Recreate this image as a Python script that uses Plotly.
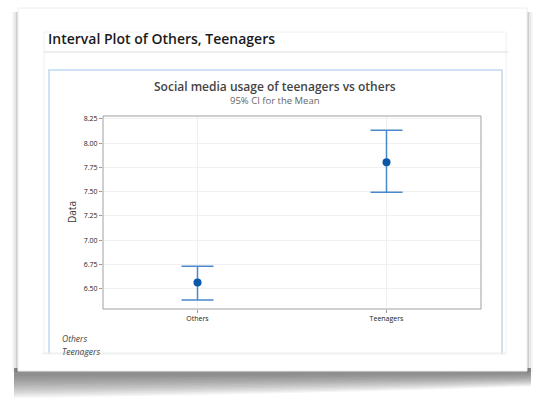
import plotly.graph_objects as go

categories = ["Others", "Teenagers"]
means = [6.562, 7.804]
upper = [6.731, 8.132]
lower = [6.383, 7.493]
y_ticks = [6.50, 6.75, 7.00, 7.25, 7.50, 7.75, 8.00, 8.25]
y_tick_labels = ["6.50", "6.75", "7.00", "7.25", "7.50", "7.75", "8.00", "8.25"]

W, H = 533, 398
L, R, T, B = 103, 481, 116, 309


def px(x):
    return (x - L) / (R - L)


def py(y):
    return (B - y) / (B - T)


fig = go.Figure()
fig.add_trace(go.Scatter(
    x=categories, y=means, mode="markers",
    marker=dict(color="#0b57a8", size=8),
    error_y=dict(type="data", symmetric=False,
                 array=[u - m for u, m in zip(upper, means)],
                 arrayminus=[m - l for m, l in zip(means, lower)],
                 color="#4a88cc", thickness=1.5, width=16),
    showlegend=False, cliponaxis=False,
))

shapes = []
# side shadows
for op, d in [(0.06, 6), (0.1, 4), (0.18, 2)]:
    shapes.append(dict(type="rect", xref="paper", yref="paper",
                       x0=px(18 - d), x1=px(18), y0=py(372), y1=py(12),
                       fillcolor="#666", opacity=op, line_width=0, layer="below"))
    shapes.append(dict(type="rect", xref="paper", yref="paper",
                       x0=px(527), x1=px(527 + d), y0=py(372), y1=py(12),
                       fillcolor="#666", opacity=op, line_width=0, layer="below"))
# bottom shadow (layered gradient)
for k in range(14):
    d = 26 - k * 1.7
    shapes.append(dict(type="path", xref="paper", yref="paper",
                       path=f"M {px(14)},{py(368)} L {px(531)},{py(368)} L {px(531)},{py(372 + d*0.55)} "
                            f"Q {px(300)},{py(372 + d*0.85)} {px(14)},{py(372 + d)} Z",
                       fillcolor="#444", opacity=0.06, line_width=0, layer="below"))
# card
shapes.append(dict(type="rect", xref="paper", yref="paper",
                   x0=px(18), x1=px(527), y0=py(371), y1=py(8),
                   fillcolor="white", line=dict(color="#eeeeee", width=1), layer="below"))
# header box
shapes.append(dict(type="rect", xref="paper", yref="paper",
                   x0=px(44), x1=px(506), y0=py(354), y1=py(32),
                   fillcolor="rgba(0,0,0,0)", line=dict(color="#f0f0f0", width=1), layer="below"))
shapes.append(dict(type="line", xref="paper", yref="paper",
                   x0=px(44), x1=px(508), y0=py(52), y1=py(52),
                   line=dict(color="#e8e8e8", width=1.5), layer="below"))
# light blue panel
shapes.append(dict(type="path", xref="paper", yref="paper",
                   path=f"M {px(49)},{py(354)} L {px(49)},{py(70)} L {px(502)},{py(70)} L {px(502)},{py(354)}",
                   line=dict(color="#cfe2f5", width=2), layer="below"))
shapes.append(dict(type="line", xref="paper", yref="paper",
                   x0=px(42), x1=px(505), y0=py(353), y1=py(353),
                   line=dict(color="#ececec", width=1), layer="below"))
# plot frame
shapes.append(dict(type="rect", xref="paper", yref="paper",
                   x0=0, x1=1, y0=0, y1=1,
                   line=dict(color="#a0a0a0", width=1), layer="above"))

annotations = [
    dict(text="Interval Plot of Others, Teenagers", x=px(46), y=py(39), xref="paper", yref="paper",
         xanchor="left", yanchor="middle", showarrow=False,
         font=dict(family="Open Sans", size=14, color="#1a1a1a", weight=600)),
    dict(text="Social media usage of teenagers vs others", x=px(275), y=py(87), xref="paper", yref="paper",
         xanchor="center", yanchor="middle", showarrow=False,
         font=dict(family="Open Sans", size=12, color="#444", weight=600)),
    dict(text="95% CI for the Mean", x=px(275), y=py(101), xref="paper", yref="paper",
         xanchor="center", yanchor="middle", showarrow=False,
         font=dict(family="Open Sans", size=9.5, color="#666")),
    dict(text="Data", x=px(72), y=py(212), xref="paper", yref="paper",
         xanchor="center", yanchor="middle", showarrow=False, textangle=-90,
         font=dict(family="Open Sans", size=10, color="#333")),
    dict(text="<i>Others</i>", x=px(60), y=py(338), xref="paper", yref="paper",
         xanchor="left", yanchor="middle", showarrow=False,
         font=dict(family="Open Sans", size=8.5, color="#444")),
    dict(text="<i>Teenagers</i>", x=px(60), y=py(351), xref="paper", yref="paper",
         xanchor="left", yanchor="middle", showarrow=False,
         font=dict(family="Open Sans", size=8.5, color="#444")),
]

fig.update_layout(
    width=W, height=H,
    margin=dict(l=L, r=W - R, t=T, b=H - B),
    paper_bgcolor="white", plot_bgcolor="white",
    shapes=shapes, annotations=annotations,
    xaxis=dict(range=[-0.5, 1.5], showgrid=True, gridcolor="#f0f0f0", zeroline=False,
               ticks="outside", ticklen=3, tickcolor="#999", showline=False,
               tickfont=dict(family="Open Sans", size=7, color="#222")),
    yaxis=dict(range=[6.29, 8.28], tickvals=y_ticks, ticktext=y_tick_labels,
               showgrid=True, gridcolor="#f0f0f0", zeroline=False,
               ticks="outside", ticklen=3, tickcolor="#999", showline=False,
               tickfont=dict(family="Open Sans", size=7, color="#222")),
)

fig.write_html("out.html")
